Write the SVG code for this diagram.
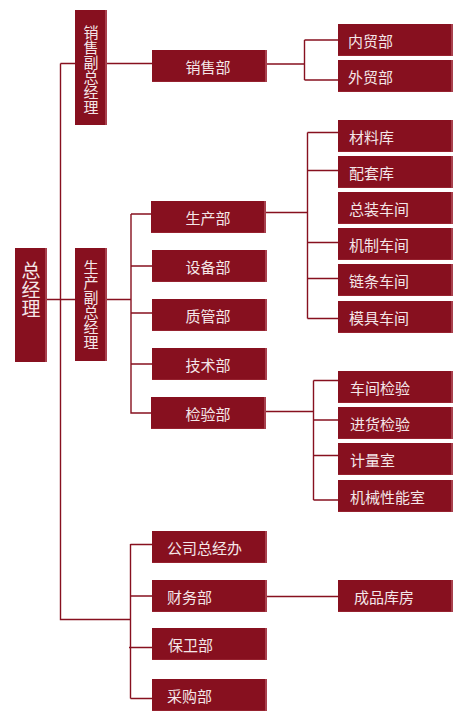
<svg xmlns="http://www.w3.org/2000/svg" width="462" height="725" viewBox="0 0 462 725">
<style>
.b{fill:#87101f}
.e{fill:#a8404d}
.s{fill:#96222f}
.t{font-family:"Noto Sans CJK SC","Noto Sans",sans-serif;font-size:15px;fill:#f4e6e8;dominant-baseline:central}
.c{text-anchor:middle}
.v{font-family:"Noto Sans CJK SC","Noto Sans",sans-serif;font-size:15px;fill:#f4e6e8;writing-mode:vertical-rl;text-anchor:middle}
.big{font-size:19px}
.ln{stroke:#87101f;stroke-width:1.4;fill:none}
</style>
<defs>
<g id="box">
<rect class="b" x="0" y="0" width="115" height="32"/>
<rect class="s" x="0" y="31" width="115" height="1"/>
<rect class="e" x="113" y="0" width="2" height="32"/>
</g>
</defs>
<g id="connectors">
<path class="ln" d="M60.5,63.5V619.5H130.5"/>
<path class="ln" d="M60.5,63.5H75M107,63.5H152"/>
<path class="ln" d="M47,299.5H75M107,299.5H131"/>
<path class="ln" d="M267,64H304.5M304.5,40V80M304.5,40H338M304.5,80H338"/>
<path class="ln" d="M131,214V413H151M131,214H151M131,266H152M131,313H152M131,364H152"/>
<path class="ln" d="M266,212.5H307.5M307.5,132.5V318.5M307.5,132.5H338M307.5,170.5H338M307.5,242.5H338M307.5,278.5H338M307.5,318.5H338"/>
<path class="ln" d="M266,411.5H313.5M313.5,380.5V500M313.5,380.5H338M313.5,420H338M313.5,455.5H338M313.5,500H338"/>
<path class="ln" d="M130.5,544V698.5M130.5,544.5H152M130.5,596H152M129,647.5H152M130.5,698.5H152"/>
<path class="ln" d="M267,596.5H338"/>
</g>
<g id="n-zjl">
<rect class="b" x="15" y="248" width="32" height="114"/>
<rect class="e" x="45" y="248" width="2" height="114"/>
<text class="v big" x="31" y="289.5">总经理</text>
</g>
<g id="n-xsfz">
<rect class="b" x="75" y="10" width="32" height="115"/>
<rect class="e" x="105" y="10" width="2" height="115"/>
<text class="v" x="91" y="70">销售副总经理</text>
</g>
<g id="n-scfz">
<rect class="b" x="75" y="248" width="32" height="113"/>
<rect class="e" x="105" y="248" width="2" height="113"/>
<text class="v" x="91" y="305">生产副总经理</text>
</g>
<g id="n-xsb"><use href="#box" x="152" y="50"/><text class="t c" x="208" y="66">销售部</text></g>
<g id="n-nmb"><use href="#box" x="338" y="24"/><text class="t" x="348" y="40">内贸部</text></g>
<g id="n-wmb"><use href="#box" x="338" y="60"/><text class="t" x="348" y="76">外贸部</text></g>
<g id="n-scb"><use href="#box" x="151" y="201"/><text class="t c" x="208" y="217">生产部</text></g>
<g id="n-sbb"><use href="#box" x="152" y="250"/><text class="t c" x="208" y="266">设备部</text></g>
<g id="n-zgb"><use href="#box" x="152" y="299"/><text class="t c" x="208" y="315">质管部</text></g>
<g id="n-jsb"><use href="#box" x="152" y="348"/><text class="t c" x="208" y="364">技术部</text></g>
<g id="n-jyb"><use href="#box" x="151" y="397"/><text class="t c" x="208" y="413">检验部</text></g>
<g id="n-clk"><use href="#box" x="338" y="120"/><text class="t" x="349" y="136">材料库</text></g>
<g id="n-ptk"><use href="#box" x="338" y="156"/><text class="t" x="349" y="172">配套库</text></g>
<g id="n-zzcj"><use href="#box" x="338" y="192"/><text class="t" x="349" y="208">总装车间</text></g>
<g id="n-jzcj"><use href="#box" x="338" y="228"/><text class="t" x="349" y="244">机制车间</text></g>
<g id="n-ltcj"><use href="#box" x="338" y="264"/><text class="t" x="349" y="280">链条车间</text></g>
<g id="n-mjcj"><use href="#box" x="338" y="301"/><text class="t" x="349" y="317">模具车间</text></g>
<g id="n-cjjy"><use href="#box" x="338" y="371"/><text class="t" x="350" y="387">车间检验</text></g>
<g id="n-jhjy"><use href="#box" x="338" y="407"/><text class="t" x="350" y="423">进货检验</text></g>
<g id="n-jls"><use href="#box" x="338" y="443"/><text class="t" x="350" y="459">计量室</text></g>
<g id="n-jxxn"><use href="#box" x="338" y="480"/><text class="t" x="350" y="496">机械性能室</text></g>
<g id="n-gszjb"><use href="#box" x="152" y="531"/><text class="t" x="167" y="547">公司总经办</text></g>
<g id="n-cwb"><use href="#box" x="152" y="580"/><text class="t" x="167" y="596">财务部</text></g>
<g id="n-bwb"><use href="#box" x="152" y="628"/><text class="t" x="168" y="644">保卫部</text></g>
<g id="n-cgb"><use href="#box" x="152" y="679"/><text class="t" x="167" y="695">采购部</text></g>
<g id="n-cpkf"><use href="#box" x="338" y="580"/><text class="t" x="354" y="596">成品库房</text></g>
</svg>
